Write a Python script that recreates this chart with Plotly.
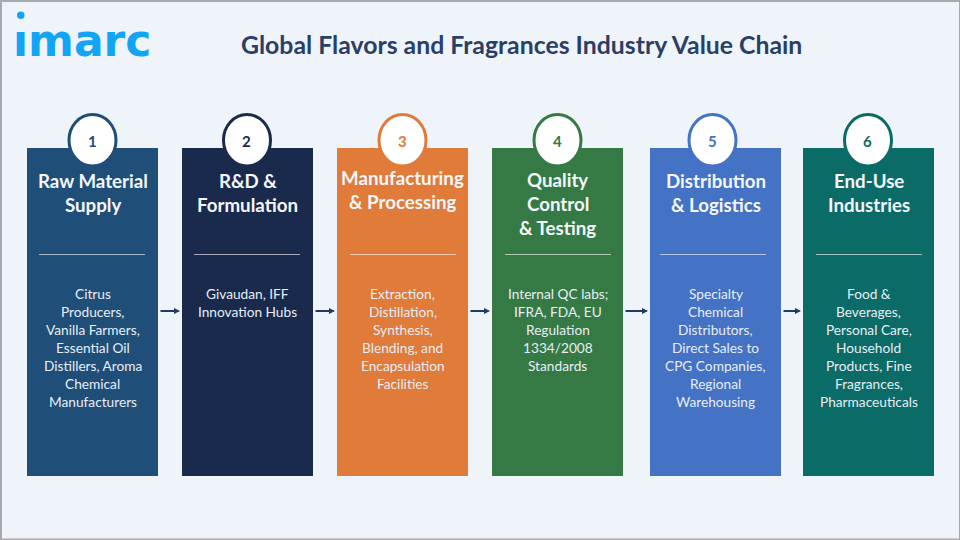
import plotly.graph_objects as go

# chart text
title = 'Global Flavors and Fragrances Industry Value Chain'
logo = 'ımarc'  # the dot of the i is drawn on its own, higher up
numbers = ['1', '2', '3', '4', '5', '6']
headers = [
    ['Raw Material', 'Supply'],
    ['R&D &', 'Formulation'],
    ['Manufacturing', '& Processing'],
    ['Quality', 'Control', '& Testing'],
    ['Distribution', '& Logistics'],
    ['End-Use', 'Industries'],
]
details = [
    ['Citrus', 'Producers,', 'Vanilla Farmers,', 'Essential Oil', 'Distillers, Aroma', 'Chemical', 'Manufacturers'],
    ['Givaudan, IFF', 'Innovation Hubs'],
    ['Extraction,', 'Distillation,', 'Synthesis,', 'Blending, and', 'Encapsulation', 'Facilities'],
    ['Internal QC labs;', 'IFRA, FDA, EU', 'Regulation', '1334/2008', 'Standards'],
    ['Specialty', 'Chemical', 'Distributors,', 'Direct Sales to', 'CPG Companies,', 'Regional', 'Warehousing'],
    ['Food &', 'Beverages,', 'Personal Care,', 'Household', 'Products, Fine', 'Fragrances,', 'Pharmaceuticals'],
]
colors = ['#1F4E79', '#1A2A4D', '#E07B39', '#357A45', '#4472C4', '#0B6B66']

# layout in page pixels
box_left = [27, 182, 337, 492, 650, 803]
box_width = 131
box_top, box_bottom = 148, 476
circle_x = [92.5, 247, 402.5, 557.5, 712.5, 868]
divider_left = [39, 194, 350, 505, 660, 816]
header_top = [181, 181, 178, 180, 181, 181]
header_step = 24
line_top = 293.5
line_step = 18

fig = go.Figure()
shapes = []
annotations = []

# page frame
shapes.append(dict(type='rect', x0=0, x1=960, y0=0, y1=540, fillcolor='#A9A9AD', line_width=0))
shapes.append(dict(type='rect', x0=2, x1=959, y0=2, y1=538.5, fillcolor='#EFF3FA', line_width=0))

for i, c in enumerate(colors):
    x0 = box_left[i]
    mid = x0 + box_width / 2
    shapes.append(dict(type='rect', x0=x0, x1=x0 + box_width, y0=box_top, y1=box_bottom,
                       fillcolor=c, line_width=0))
    shapes.append(dict(type='line', x0=divider_left[i], x1=divider_left[i] + 106, y0=254.5, y1=254.5,
                       line=dict(color='rgba(255,255,255,0.6)', width=1)))
    shapes.append(dict(type='circle', x0=circle_x[i] - 23.5, x1=circle_x[i] + 23.5, y0=114.5, y1=166,
                       fillcolor='white', line=dict(color=c, width=3)))
    annotations.append(dict(x=circle_x[i] - 0.5, y=141, text='<b>' + numbers[i] + '</b>', showarrow=False,
                            font=dict(family='Lato', size=15, color=c)))
    for j, t in enumerate(headers[i]):
        annotations.append(dict(x=mid, y=header_top[i] + j * header_step, text='<b>' + t + '</b>',
                                showarrow=False, font=dict(family='Lato', size=18.7, color='#F4F7FB')))
    for j, t in enumerate(details[i]):
        annotations.append(dict(x=mid, y=line_top + j * line_step, text=t, showarrow=False,
                                font=dict(family='Lato', size=13.7, color='#E6EEF7')))
    # arrow to the next box
    if i < 5:
        annotations.append(dict(x=box_left[i + 1] - 2, y=311, ax=x0 + box_width + 1, ay=311,
                                xref='x', yref='y', axref='x', ayref='y', text='', showarrow=True,
                                arrowhead=2, arrowsize=0.6, arrowwidth=2, arrowcolor='#1F3D63'))

# title and logo
annotations.append(dict(x=521.5, y=44, text='<b>' + title + '</b>', showarrow=False,
                        font=dict(family='Lato', size=24.8, color='#2A3F66')))
annotations.append(dict(x=82, y=40, text='<b>' + logo + '</b>', showarrow=False,
                        font=dict(family='DejaVu Sans', size=44, color='#12A5F4')))
shapes.append(dict(type='circle', x0=17, x1=24.5, y0=11.5, y1=19, fillcolor='#12A5F4', line_width=0))

fig.update_layout(
    width=960, height=540, margin=dict(l=0, r=0, t=0, b=0),
    paper_bgcolor='#EFF3FA', plot_bgcolor='#EFF3FA',
    showlegend=False, shapes=shapes, annotations=annotations,
    xaxis=dict(range=[0, 960], visible=False, fixedrange=True),
    yaxis=dict(range=[540, 0], visible=False, fixedrange=True),
)

fig.write_html("out.html", config=dict(displayModeBar=False), post_script="document.body.style.margin='0';")
